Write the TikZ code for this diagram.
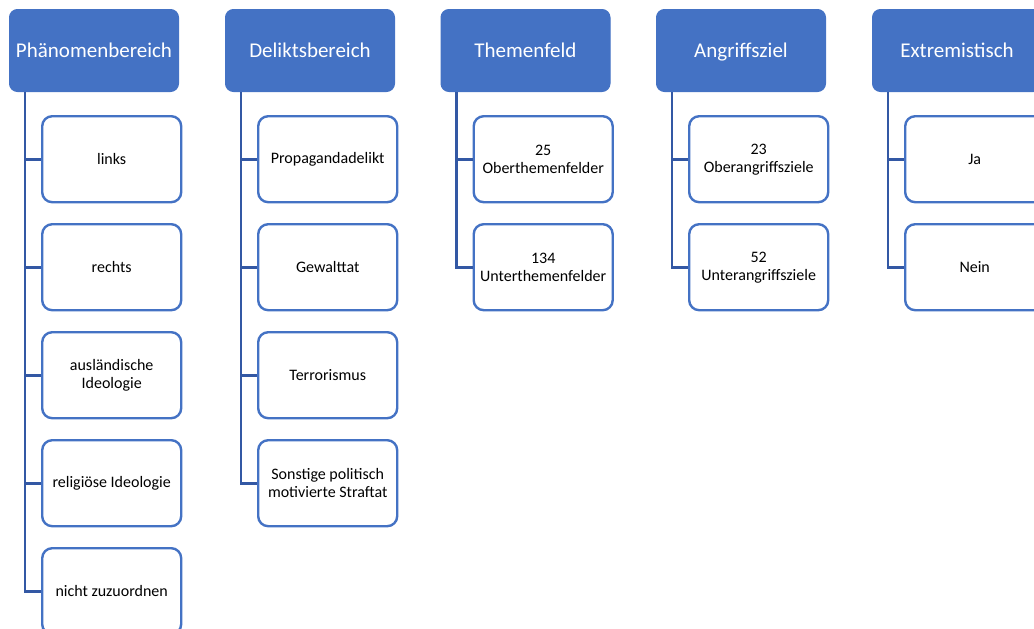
\documentclass[tikz,border=0pt]{standalone}
\usepackage{fontspec}
\setmainfont{Carlito}
\definecolor{hdrblue}{HTML}{4472C4}
\definecolor{linkblue}{HTML}{3358A4}
\begin{document}
\begin{tikzpicture}[x=1pt,y=-1pt,
  hdr/.style={draw=hdrblue,fill=hdrblue,line width=1pt,rounded corners=8pt,
    minimum width=169pt,minimum height=82pt,inner sep=0pt,anchor=north west,
    text=white,font=\fontsize{21}{25}\selectfont,text height=16pt,text depth=3pt},
  child/.style={draw=hdrblue,fill=white,line width=2.4pt,rounded corners=10pt,
    minimum width=139pt,minimum height=86pt,inner sep=0pt,anchor=north west,
    text=black,align=center,font=\fontsize{16}{18}\selectfont},
  conn/.style={draw=linkblue,line width=2.6pt}]
\useasboundingbox (0,0) rectangle (1034,629);
% headers
\node[hdr] (h1) at (9,9) {Phänomenbereich};
\node[hdr] (h2) at (225,9) {Deliktsbereich};
\node[hdr] (h3) at (440.5,9) {Themenfeld};
\node[hdr] (h4) at (656,9) {Angriffsziel};
\node[hdr] (h5) at (872,9) {Extremistisch};
% column 1
\node[child] (a1) at (41,115) {links};
\node[child] (a2) at (41,223) {rechts};
\node[child] (a3) at (41,331) {ausländische\\Ideologie};
\node[child] (a4) at (41,439) {religiöse Ideologie};
\node[child] (a5) at (41,547) {nicht zuzuordnen};
% column 2
\node[child] (b1) at (257,115) {Propagandadelikt};
\node[child] (b2) at (257,223) {Gewalttat};
\node[child] (b3) at (257,331) {Terrorismus};
\node[child] (b4) at (257,439) {Sonstige politisch\\motivierte Straftat};
% column 3
\node[child] (c1) at (472.5,115) {25\\Oberthemenfelder};
\node[child] (c2) at (472.5,223) {134\\Unterthemenfelder};
% column 4
\node[child] (d1) at (688,115) {23\\Oberangriffsziele};
\node[child] (d2) at (688,223) {52\\Unterangriffsziele};
% column 5
\node[child] (e1) at (904,115) {Ja};
\node[child] (e2) at (904,223) {Nein};
% connectors
\foreach \h/\kids in {h1/{a1,a2,a3,a4,a5},h2/{b1,b2,b3,b4},h3/{c1,c2},h4/{d1,d2},h5/{e1,e2}}{
  \foreach \k in \kids{
    \draw[conn] ([xshift=16pt]\h.south west) |- (\k.west);
  }
}
\end{tikzpicture}
\end{document}
